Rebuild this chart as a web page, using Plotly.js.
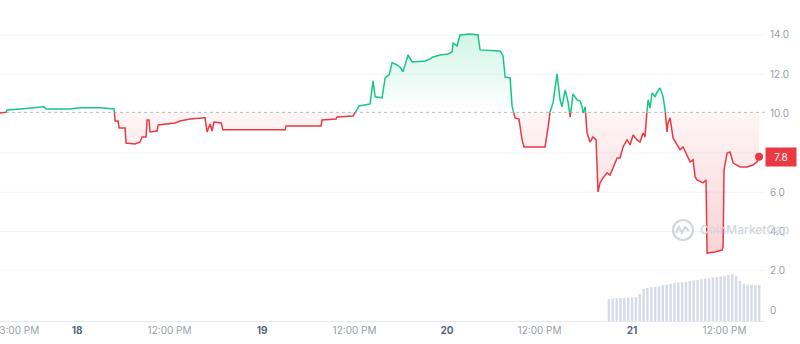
<!DOCTYPE html>
<html>
<head>
<meta charset="utf-8">
<script src="https://cdn.plot.ly/plotly-3.0.1.min.js"></script>
<style>html,body{margin:0;padding:0;background:#fff;}#chart{width:800px;height:344px;}</style>
</head>
<body>
<div id="chart"></div>
<script>
// ---- price series (time, price) ----
const times = [
'2023-03-17 14:00','2023-03-17 14:47','2023-03-17 14:55','2023-03-17 16:37','2023-03-17 19:12','2023-03-17 19:43','2023-03-17 19:59','2023-03-17 23:05',
'2023-03-18 00:23','2023-03-18 02:59','2023-03-18 04:48','2023-03-18 04:56','2023-03-18 05:19','2023-03-18 05:27','2023-03-18 06:14','2023-03-18 06:21','2023-03-18 07:31','2023-03-18 08:10','2023-03-18 08:26','2023-03-18 08:57','2023-03-18 09:05','2023-03-18 09:20','2023-03-18 09:28','2023-03-18 10:23','2023-03-18 10:31','2023-03-18 12:43','2023-03-18 13:22','2023-03-18 14:40','2023-03-18 16:36','2023-03-18 16:52','2023-03-18 17:15','2023-03-18 17:31','2023-03-18 17:46','2023-03-18 18:41','2023-03-18 18:56',
'2023-03-19 02:59','2023-03-19 03:07','2023-03-19 07:39','2023-03-19 07:47','2023-03-19 09:36','2023-03-19 09:44','2023-03-19 11:48','2023-03-19 12:04','2023-03-19 12:35','2023-03-19 14:01','2023-03-19 14:24','2023-03-19 14:40','2023-03-19 15:34','2023-03-19 15:58','2023-03-19 16:29','2023-03-19 16:52','2023-03-19 17:31','2023-03-19 17:54','2023-03-19 18:17','2023-03-19 18:56','2023-03-19 19:28','2023-03-19 21:09','2023-03-19 21:48','2023-03-19 22:11','2023-03-19 23:06',
'2023-03-20 00:08','2023-03-20 00:39','2023-03-20 00:47','2023-03-20 01:18','2023-03-20 01:41','2023-03-20 02:59','2023-03-20 04:01','2023-03-20 04:17','2023-03-20 06:53','2023-03-20 07:16','2023-03-20 07:32','2023-03-20 08:11','2023-03-20 08:26','2023-03-20 08:49','2023-03-20 09:20','2023-03-20 09:44','2023-03-20 09:59','2023-03-20 12:43','2023-03-20 13:07','2023-03-20 13:22','2023-03-20 13:45','2023-03-20 14:16','2023-03-20 14:40','2023-03-20 14:55','2023-03-20 15:19','2023-03-20 15:42','2023-03-20 15:58','2023-03-20 16:21','2023-03-20 16:52','2023-03-20 17:16','2023-03-20 17:31','2023-03-20 17:39','2023-03-20 17:55','2023-03-20 18:10','2023-03-20 18:33','2023-03-20 18:56','2023-03-20 19:20','2023-03-20 19:35','2023-03-20 19:51','2023-03-20 20:14','2023-03-20 20:46','2023-03-20 21:09','2023-03-20 21:32','2023-03-20 22:04','2023-03-20 22:27','2023-03-20 22:50','2023-03-20 23:21','2023-03-20 23:45',
'2023-03-21 00:08','2023-03-21 00:39','2023-03-21 01:02','2023-03-21 01:26','2023-03-21 01:41','2023-03-21 01:57','2023-03-21 02:05','2023-03-21 02:20','2023-03-21 02:36','2023-03-21 02:59','2023-03-21 03:15','2023-03-21 03:38','2023-03-21 04:02','2023-03-21 04:17','2023-03-21 04:32','2023-03-21 04:40','2023-03-21 04:56','2023-03-21 05:19','2023-03-21 05:50','2023-03-21 06:14','2023-03-21 06:37','2023-03-21 07:08','2023-03-21 07:32','2023-03-21 07:55','2023-03-21 08:11','2023-03-21 08:26','2023-03-21 09:13','2023-03-21 09:36','2023-03-21 09:44','2023-03-21 10:46','2023-03-21 11:41','2023-03-21 11:49','2023-03-21 11:56','2023-03-21 12:20','2023-03-21 12:43','2023-03-21 13:07','2023-03-21 14:01','2023-03-21 14:55','2023-03-21 15:42','2023-03-21 16:13','2023-03-21 16:29'
];
const prices = [
10.03,10.03,10.18,10.23,10.29,10.34,10.23,10.23,
10.29,10.29,10.23,9.62,9.62,9.27,9.27,8.50,8.45,8.55,8.81,8.81,9.67,9.67,9.06,9.11,9.42,9.52,9.62,9.72,9.78,9.06,9.47,9.11,9.57,9.52,9.17,
9.17,9.37,9.37,9.67,9.72,9.83,9.88,10.03,10.39,10.49,11.66,10.85,10.80,11.81,11.97,12.58,12.48,12.37,12.12,12.98,12.63,12.68,12.78,12.88,12.98,
13.03,13.14,13.59,13.44,14.00,14.05,14.00,13.24,13.19,12.93,11.86,11.81,10.39,9.78,9.72,8.66,8.30,8.30,9.32,10.08,10.54,12.02,10.69,10.34,11.20,10.59,9.83,11.00,10.69,10.64,10.34,10.03,10.34,9.01,8.55,8.81,8.66,6.01,6.47,6.72,6.98,6.87,7.23,7.74,7.74,8.30,8.66,8.40,
8.91,8.66,8.55,9.01,8.81,10.18,10.69,10.29,11.05,10.85,11.10,11.30,10.85,10.18,9.06,9.52,9.78,8.76,8.40,8.15,8.30,7.89,7.54,7.64,6.77,6.62,6.47,6.62,2.90,2.95,3.05,3.21,7.13,7.99,8.04,7.48,7.28,7.28,7.38,7.54,7.80
];
const baseline = 10.06;   // opening reference (dotted line)
const lastPriceLabel = '7.8';

// ---- volume bars ----
const volTimes = [
'2023-03-20 21:00','2023-03-20 21:30','2023-03-20 22:00','2023-03-20 22:30','2023-03-20 23:00','2023-03-20 23:30',
'2023-03-21 00:00','2023-03-21 00:30','2023-03-21 01:00','2023-03-21 01:30','2023-03-21 02:00','2023-03-21 02:30','2023-03-21 03:00','2023-03-21 03:30','2023-03-21 04:00','2023-03-21 04:30','2023-03-21 05:00','2023-03-21 05:30','2023-03-21 06:00','2023-03-21 06:30','2023-03-21 07:00','2023-03-21 07:30','2023-03-21 08:00','2023-03-21 08:30','2023-03-21 09:00','2023-03-21 09:30','2023-03-21 10:00','2023-03-21 10:30','2023-03-21 11:00','2023-03-21 11:30','2023-03-21 12:00','2023-03-21 12:30','2023-03-21 13:00','2023-03-21 13:30','2023-03-21 14:00','2023-03-21 14:30','2023-03-21 15:00','2023-03-21 15:30','2023-03-21 16:00','2023-03-21 16:30'
];
const volumes = [1.10,1.12,1.13,1.15,1.16,1.18,1.18,1.20,1.35,1.60,1.66,1.68,1.70,1.73,1.78,1.82,1.86,1.90,1.92,1.94,1.96,2.00,2.02,2.05,2.08,2.12,2.14,2.18,2.20,2.23,2.26,2.30,2.35,2.25,2.00,1.85,1.80,1.80,1.79,1.80];

// ---- axis ticks (8.0 sits under the price tag) ----
const yTickVals = [0,2,4,6,10,12,14];
const yTickText = ['0','2.0','4.0','6.0','10.0','12.0','14.0'];
const yGridVals = [2,4,6,8,12,14];
const xTickVals = ['2023-03-17 16:30','2023-03-18 00:00','2023-03-18 12:00','2023-03-19 00:00','2023-03-19 12:00','2023-03-20 00:00','2023-03-20 12:00','2023-03-21 00:00','2023-03-21 12:00'];
const xTickText = ['3:00 PM','18','12:00 PM','19','12:00 PM','20','12:00 PM','21','12:00 PM'];
const dayTicks = ['18','19','20','21'];

const GREEN = '#16c784', RED = '#ea3943';

// build split series with crossing points
function toMs(s){ return Date.parse(s.replace(' ','T')+':00Z'); }
function fmt(ms){ return new Date(ms).toISOString().slice(0,19).replace('T',' '); }
const X = [], Y = [];
for (let i=0;i<prices.length;i++){
  X.push(times[i]); Y.push(prices[i]);
  if (i < prices.length-1){
    const a = prices[i]-baseline, b = prices[i+1]-baseline;
    if (a*b < 0){
      const f = a/(a-b);
      const t0 = toMs(times[i]), t1 = toMs(times[i+1]);
      X.push(fmt(t0 + f*(t1-t0))); Y.push(baseline);
    }
  }
}
const baseY = X.map(()=>baseline);
const upY = Y.map(v=>Math.max(v,baseline));
const dnY = Y.map(v=>Math.min(v,baseline));
const greenLine = Y.map(v=> v>=baseline ? v : null);
const redLine = Y.map(v=> v<=baseline ? v : null);
const minP = Math.min(...prices), maxP = Math.max(...prices);

const traces = [
  {type:'bar', x:volTimes, y:volumes, yaxis:'y2', marker:{color:'#d6dce7'}, hoverinfo:'skip'},
  {type:'scatter', mode:'lines', x:X, y:baseY, line:{width:0}, hoverinfo:'skip'},
  {type:'scatter', mode:'lines', x:X, y:upY, fill:'tonexty', line:{width:0},
   fillgradient:{type:'vertical', start:baseline, stop:maxP, colorscale:[[0,'rgba(22,199,132,0.0)'],[1,'rgba(22,199,132,0.2)']]}, hoverinfo:'skip'},
  {type:'scatter', mode:'lines', x:X, y:baseY, line:{width:0}, hoverinfo:'skip'},
  {type:'scatter', mode:'lines', x:X, y:dnY, fill:'tonexty', line:{width:0},
   fillgradient:{type:'vertical', start:minP, stop:baseline, colorscale:[[0,'rgba(234,57,67,0.22)'],[1,'rgba(234,57,67,0.05)']]}, hoverinfo:'skip'},
  {type:'scatter', mode:'lines', x:X, y:redLine, line:{color:RED, width:1.5}, connectgaps:false, hoverinfo:'skip'},
  {type:'scatter', mode:'lines', x:X, y:greenLine, line:{color:GREEN, width:1.5}, connectgaps:false, hoverinfo:'skip'},
  {type:'scatter', mode:'markers', x:[times[times.length-1]], y:[prices[prices.length-1]], marker:{color:RED, size:8}, hoverinfo:'skip'}
];

const xTickFmt = xTickText.map(t => dayTicks.includes(t) ? '<span style="color:#58667e"><b>'+t+'</b></span>' : t);

const gridShapes = yGridVals.map(v => ({type:'line', xref:'paper', x0:0, x1:1, yref:'y', y0:v, y1:v, line:{color:'#f1f3f6', width:1}, layer:'below'}));

const layout = {
  width:800, height:344,
  margin:{l:0, r:35, t:0, b:23, pad:0},
  paper_bgcolor:'#ffffff', plot_bgcolor:'#ffffff',
  showlegend:false, bargap:0.35,
  font:{family:'Inter, "Open Sans", sans-serif', size:10, color:'#a1a7b3'},
  xaxis:{type:'date', range:['2023-03-17 14:00','2023-03-21 17:15'], tickvals:xTickVals, ticktext:xTickFmt,
         showgrid:false, zeroline:false, showline:true, linecolor:'#e6e9ee', linewidth:1, ticks:'',
         tickfont:{size:10, color:'#98a0ad'}, ticklabeloverflow:'allow'},
  yaxis:{range:[-0.56,15.78], side:'right', tickvals:yTickVals, ticktext:yTickText, showgrid:false,
         zeroline:false, showline:false, ticks:'', tickfont:{size:10, color:'#98a0ad'}, ticklabelstandoff:4},
  yaxis2:{overlaying:'y', range:[0,16.05], visible:false, showgrid:false},
  shapes: gridShapes.concat([
    {type:'line', xref:'paper', x0:0, x1:1, yref:'y', y0:baseline, y1:baseline, line:{color:'#b9bec7', width:1, dash:'dot'}, layer:'below'},
    {type:'circle', xref:'paper', yref:'paper', x0:0.8797, x1:0.9059, y0:0.2523, y1:0.3146, line:{color:'#d2d6de', width:2.2}},
    {type:'path', xref:'paper', yref:'paper', path:'M 0.8837 0.2741 L 0.8876 0.2928 L 0.8915 0.2741 L 0.8954 0.2928 L 0.9007 0.2804', line:{color:'#d2d6de', width:2}}
  ]),
  annotations:[
    {xref:'paper', x:0.913, yref:'paper', y:0.2835, xanchor:'left', yanchor:'middle', text:'CoinMarketCap', showarrow:false,
     font:{size:12, color:'#d2d6de', family:'Inter, sans-serif', weight:500}},
    {xref:'paper', x:1, xanchor:'left', xshift:0, yref:'y', y:prices[prices.length-1], yanchor:'middle', text:lastPriceLabel, showarrow:false,
     bgcolor:RED, width:30, height:18, borderpad:0, font:{size:10, color:'#ffffff'}}
  ]
};

Plotly.newPlot('chart', traces, layout, {displayModeBar:false, staticPlot:true});
</script>
</body>
</html>
